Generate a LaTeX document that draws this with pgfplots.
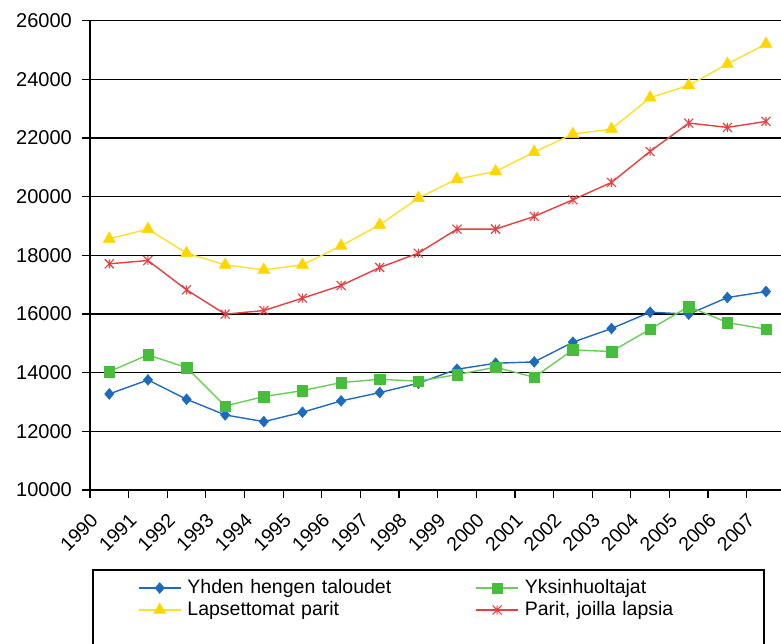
\documentclass[border=0pt]{standalone}
\usepackage{pgfplots}
\pgfplotsset{compat=1.18}
\usepackage{fontspec}
\setmainfont{Liberation Sans}
\definecolor{cblue}{RGB}{30,106,190}
\definecolor{cgreen}{RGB}{70,190,60}
\definecolor{cgreenl}{RGB}{105,205,90}
\definecolor{cyellow}{RGB}{255,214,0}
\definecolor{cyellowl}{RGB}{255,224,40}
\definecolor{cred}{RGB}{232,62,62}
\pgfdeclareplotmark{xstar}{%
  \pgfpathmoveto{\pgfqpoint{-\pgfplotmarksize}{-\pgfplotmarksize}}%
  \pgfpathlineto{\pgfqpoint{\pgfplotmarksize}{\pgfplotmarksize}}%
  \pgfpathmoveto{\pgfqpoint{-\pgfplotmarksize}{\pgfplotmarksize}}%
  \pgfpathlineto{\pgfqpoint{\pgfplotmarksize}{-\pgfplotmarksize}}%
  \pgfpathmoveto{\pgfqpoint{0pt}{-\pgfplotmarksize}}%
  \pgfpathlineto{\pgfqpoint{0pt}{\pgfplotmarksize}}%
  \pgfusepathqstroke}
\pgfplotstableread{
x y
0.5 13275
1.5 13753
2.5 13093
3.5 12559
4.5 12331
5.5 12650
6.5 13037
7.5 13321
8.5 13640
9.5 14117
10.5 14322
11.5 14367
12.5 15039
13.5 15504
14.5 16062
15.5 15995
16.5 16562
17.5 16766
}\blue
\pgfplotstableread{
x y
0.5 14036
1.5 14606
2.5 14174
3.5 12866
4.5 13184
5.5 13389
6.5 13661
7.5 13775
8.5 13710
9.5 13935
10.5 14185
11.5 13844
12.5 14777
13.5 14720
14.5 15482
15.5 16254
16.5 15709
17.5 15482
}\green
\pgfplotstableread{
x y
0.5 18564
1.5 18894
2.5 18075
3.5 17676
4.5 17506
5.5 17676
6.5 18325
7.5 19040
8.5 19952
9.5 20600
10.5 20860
11.5 21520
12.5 22135
13.5 22306
14.5 23374
15.5 23795
16.5 24523
17.5 25205
}\yellow
\pgfplotstableread{
x y
0.5 17711
1.5 17825
2.5 16824
3.5 15995
4.5 16118
5.5 16540
6.5 16971
7.5 17586
8.5 18075
9.5 18894
10.5 18894
11.5 19326
12.5 19894
13.5 20486
14.5 21543
15.5 22510
16.5 22362
17.5 22566
}\red
\begin{document}
\begin{tikzpicture}
\path[use as bounding box, clip] (0,0) rectangle (781pt,644pt);
\begin{axis}[
  at={(90pt,154pt)}, anchor=south west,
  scale only axis, width=691pt, height=469.3pt,
  xmin=0, xmax=17.888, ymin=10000, ymax=26000,
  axis x line*=bottom, axis y line*=left,
  ytick={10000,12000,14000,16000,18000,20000,22000,24000,26000},
  xtick={0,1,2,3,4,5,6,7,8,9,10,11,12,13,14,15,16,17},
  xticklabels={1990,1991,1992,1993,1994,1995,1996,1997,1998,1999,2000,2001,2002,2003,2004,2005,2006,2007},
  tick align=outside, major tick length=8pt,
  ymajorgrids, grid style={black, line width=1.4pt},
  axis line style={black, line width=1.4pt},
  tick style={black, line width=1.2pt},
  /pgf/number format/assume math mode=true,
  /pgf/number format/set thousands separator={},
  scaled y ticks=false,
  yticklabel style={font=\fontsize{20}{24}\selectfont, inner sep=0pt, xshift=-10pt},
  xticklabel style={font=\fontsize{19.5}{24}\selectfont, xshift=4.5pt, yshift=-19pt, rotate=45, anchor=east, inner sep=0pt},
  legend columns=2,
  legend cell align=left,
  legend style={draw=none, fill=none, at={(0.0695,-0.1876)}, anchor=north west,
    inner sep=0pt, outer sep=0pt, row sep=2pt,
    font=\fontsize{19.5}{22}\selectfont,
    nodes={inner sep=0pt, text height=15pt, text depth=5pt, text width=280pt, align=left},
    /tikz/every odd column/.append style={column sep=6pt},
    /tikz/every even column/.append style={column sep=8pt}},
  legend image code/.code={\draw[#1, mark repeat=2, mark phase=2] plot coordinates {(0pt,0pt)(21pt,0pt)(42pt,0pt)};},
]
\addplot[color=cblue, line width=1.4pt, mark=diamond*, mark size=5.5pt,
  mark options={solid, fill=cblue, draw=cblue, line width=0.4pt, xscale=1.15}] table {\blue};
\addlegendentry{Yhden hengen taloudet}
\addplot[color=cgreenl, line width=1.4pt, mark=square*, mark size=5.2pt,
  mark options={solid, fill=cgreen, draw=cgreen, line width=0.4pt}] table {\green};
\addlegendentry{Yksinhuoltajat}
\addplot[color=cyellowl, line width=1.4pt, mark=triangle*, mark size=7pt,
  mark options={solid, fill=cyellow, draw=cyellow, line width=0.4pt}] table {\yellow};
\addlegendentry{Lapsettomat parit}
\addplot[color=cred, line width=1.4pt, mark=xstar, mark size=4.5pt,
  mark options={solid, draw=cred, line width=1.1pt}] table {\red};
\addlegendentry{Parit, joilla lapsia}
\end{axis}
\draw[black, line width=1.2pt] (93pt,74pt) rectangle (764pt,-20pt);
\end{tikzpicture}
\end{document}
